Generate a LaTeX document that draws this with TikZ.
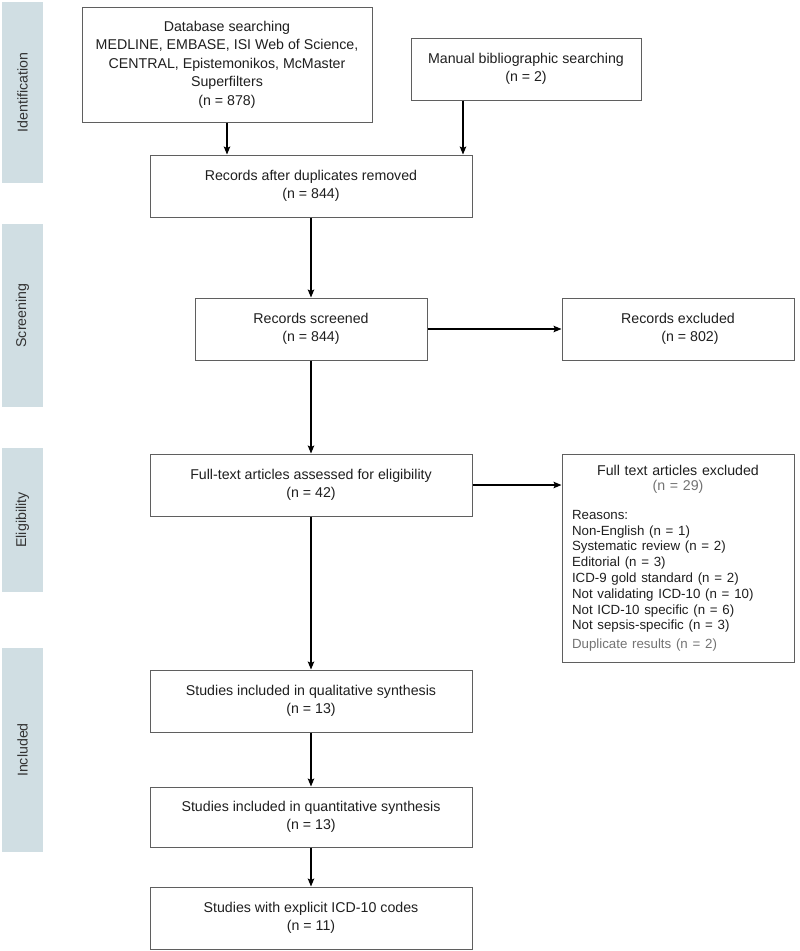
\documentclass[tikz,border=0pt]{standalone}
\usepackage{fontspec}
\setmainfont{Liberation Sans}
\usetikzlibrary{arrows.meta}
\definecolor{barblue}{RGB}{208,222,227}
\definecolor{boxline}{RGB}{95,95,95}

\begin{document}
\begin{tikzpicture}[x=1pt,y=-1pt,
	box/.style={draw=boxline,line width=1pt,fill=white,align=center,inner sep=0pt,
		font=\fontsize{14.2}{18.5}\selectfont,text=black!88},
	bar/.style={fill=barblue,inner sep=0pt,rotate=90,minimum height=41pt,
		font=\fontsize{14.2}{17}\selectfont,text=black!80},
	arr/.style={-{Stealth[length=8pt,width=6.5pt,inset=1.5pt]},line width=1.4pt}]
	\useasboundingbox[fill=white] (0,0) rectangle (800,951);
	
	%side bars
	\node[bar,minimum width=181pt] (idbar) at (22.5,92.5) {Identification};
	\node[bar,minimum width=183pt] (scrbar) at (22.5,315.5) {Screening};
	\node[bar,minimum width=144pt] (elibar) at (22.5,520) {Eligibility};
	\node[bar,minimum width=204pt] (incbar) at (22.5,750) {Included};
	
	%boxes
	\node[box,minimum width=290pt,minimum height=115pt] (db) at (227,64.5)
		{Database searching\\MEDLINE, EMBASE, ISI Web of Science,\\CENTRAL, Epistemonikos, McMaster\\Superfilters\\(n = 878)};
	\node[box,minimum width=230pt,minimum height=62pt] (man) at (526,69)
		{Manual bibliographic searching\\(n = 2)};
	\node[box,minimum width=322pt,minimum height=62pt] (dup) at (311,186)
		{Records after duplicates removed\\(n = 844)};
	\node[box,minimum width=232pt,minimum height=62pt] (scr) at (311,329)
		{Records screened\\(n = 844)};
	\node[box,minimum width=232pt,minimum height=62pt] (exc) at (678,329)
		{Records excluded\\\hspace*{24pt}(n = 802)};
	\node[box,minimum width=322pt,minimum height=62pt] (ft) at (311,485)
		{Full-text articles assessed for eligibility\\(n = 42)};
	\node[box,minimum width=232pt,minimum height=208pt,align=left,text width=212pt,inner xsep=10pt] (ftx) at (678,558)
		{\makebox[\linewidth][c]{Full text articles excluded}\\[-3pt]
		 \makebox[\linewidth][c]{\textcolor{black!55}{(n = 29)}}\\[13pt]
		 \fontsize{13.3}{15.8}\selectfont
		 Reasons:\\
		 Non-English (n = 1)\\
		 Systematic review (n = 2)\\
		 Editorial (n = 3)\\
		 ICD-9 gold standard (n = 2)\\
		 Not validating ICD-10 (n = 10)\\
		 Not ICD-10 specific (n = 6)\\
		 Not sepsis-specific (n = 3)\\
		 \textcolor{black!55}{Duplicate results (n = 2)}};
	\node[box,minimum width=322pt,minimum height=62pt] (qual) at (311,701)
		{Studies included in qualitative synthesis\\(n = 13)};
	\node[box,minimum width=322pt,minimum height=60pt] (quant) at (311,817)
		{Studies included in quantitative synthesis\\(n = 13)};
	\node[box,minimum width=322pt,minimum height=62pt] (expl) at (311,918)
		{Studies with explicit ICD-10 codes\\(n = 11)};
	
	%arrows
	\draw[arr] (db.south) -- (db.south |- dup.north);
	\draw[arr] ([xshift=-63pt]man.south) -- ([xshift=-63pt]man.south |- dup.north);
	\draw[arr] (dup.south) -- (scr.north);
	\draw[arr] (scr.east) -- (exc.west);
	\draw[arr] (scr.south) -- (ft.north);
	\draw[arr] (ft.east) -- (ft.east -| ftx.west);
	\draw[arr] (ft.south) -- (qual.north);
	\draw[arr] (qual.south) -- (quant.north);
	\draw[arr] (quant.south) -- (expl.north);
\end{tikzpicture}
\end{document}
